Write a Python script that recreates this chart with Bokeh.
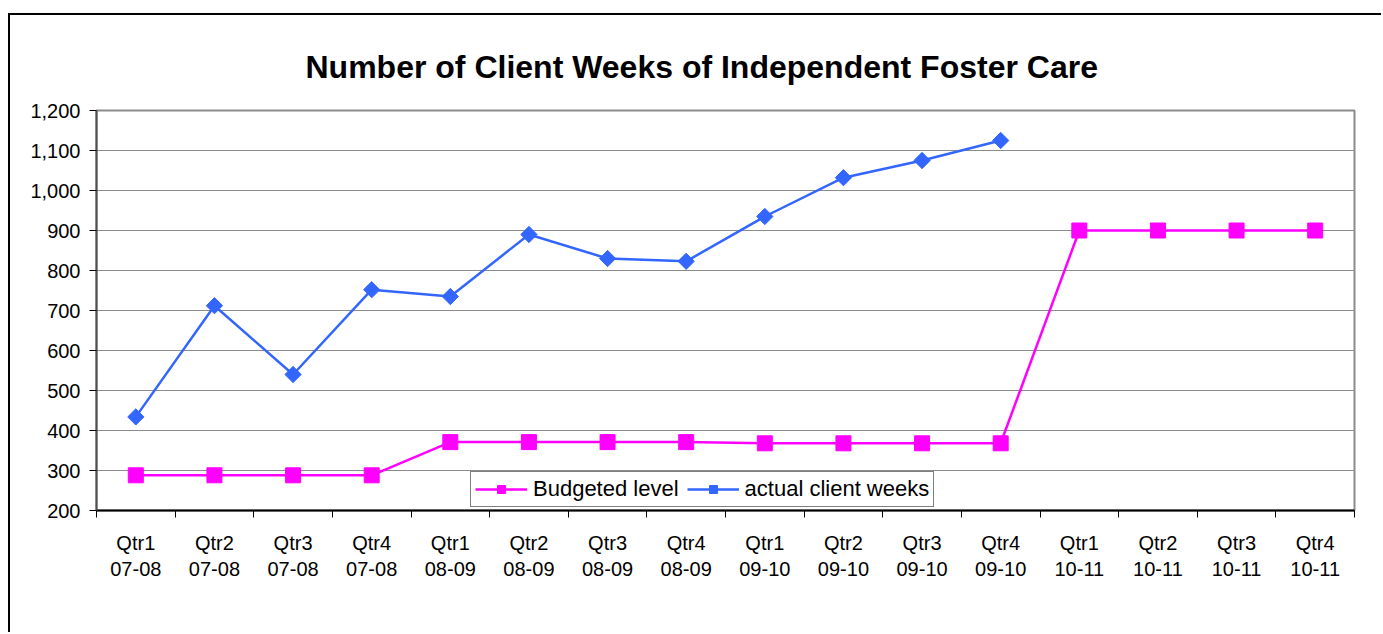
import math
from bokeh.plotting import figure
from bokeh.models import (Range1d, LinearAxis, FixedTicker, NumeralTickFormatter,
                          Legend, LegendItem, ColumnDataSource)
from bokeh.embed import file_html
from bokeh.resources import INLINE

quarters = ["Qtr1", "Qtr2", "Qtr3", "Qtr4"]
years = ["07-08", "08-09", "09-10", "10-11"]
categories = [f"{q}\n{y}" for y in years for q in quarters]
budgeted = [288, 288, 288, 288, 371, 371, 371, 371, 368, 368, 368, 368, 900, 900, 900, 900]
actual = [434, 712, 540, 752, 735, 890, 830, 823, 935, 1032, 1075, 1125]
title_text = "Number of Client Weeks of Independent Foster Care"
y_ticks = list(range(200, 1201, 100))

FONT = "Liberation Sans"
W, H = 1373, 619
n = len(categories)
centers = [i + 0.5 for i in range(n)]      # category slot centres on the index scale
bounds = list(range(n + 1))                # category slot boundaries

p = figure(width=W, height=H, x_range=Range1d(0, n), y_range=Range1d(200, 1200),
           x_axis_location=None, output_backend="svg", toolbar_location=None,
           min_border_left=86, min_border_right=29, min_border_top=95, min_border_bottom=124)
p.styles = {"margin-left": "8px", "margin-top": "13px",
            "border-left": "2px solid black", "border-top": "2px solid black"}
p.background_fill_color = "white"
p.border_fill_color = "white"
p.outline_line_color = "#8c8c8c"
p.outline_line_width = 2

p.title.text = title_text
p.title.text_font = FONT
p.title.text_font_size = "32px"
p.title.text_font_style = "bold"
p.title.text_color = "black"
p.title.align = "left"
p.title.offset = 209
p.title.standoff = 52

# y axis
ya = p.yaxis[0]
ya.ticker = FixedTicker(ticks=y_ticks)
ya.formatter = NumeralTickFormatter(format="0,0")
ya.major_label_text_font = FONT
ya.major_label_text_font_size = "20px"
ya.major_label_text_color = "black"
ya.axis_line_color = "#505050"
ya.axis_line_width = 2
ya.major_tick_line_color = "black"
ya.major_tick_in = 0
ya.major_tick_out = 7
ya.minor_tick_line_color = None
ya.major_label_standoff = 9
p.ygrid.ticker = FixedTicker(ticks=y_ticks)
p.ygrid.grid_line_color = "#8c8c8c"
p.ygrid.grid_line_width = 1
p.xgrid.grid_line_color = None

# x: tick marks at category boundaries
tick_axis = LinearAxis(ticker=FixedTicker(ticks=bounds),
                       major_label_overrides={b: "" for b in bounds},
                       major_label_standoff=0, axis_line_color="black", axis_line_width=2,
                       major_tick_line_color="black", major_tick_in=0, major_tick_out=7,
                       minor_tick_line_color=None)
p.add_layout(tick_axis, "below")
# x: category labels at slot centres
lab_axis = LinearAxis(ticker=FixedTicker(ticks=centers),
                      major_label_overrides={c: lab for c, lab in zip(centers, categories)},
                      axis_line_color=None, major_tick_line_color=None, minor_tick_line_color=None,
                      major_label_text_font=FONT, major_label_text_font_size="20px",
                      major_label_text_color="black", major_label_standoff=8)
p.add_layout(lab_axis, "below")

# series
src_b = ColumnDataSource(dict(x=centers, y=budgeted))
src_a = ColumnDataSource(dict(x=centers[:len(actual)], y=actual))
lb = p.line("x", "y", source=src_b, line_color="#FF00FF", line_width=2.5)
mb = p.scatter("x", "y", source=src_b, marker="square", size=15, fill_color="#FF00FF", line_color="#FF00FF")
la = p.line("x", "y", source=src_a, line_color="#3366FF", line_width=2.5)
ma = p.scatter("x", "y", source=src_a, marker="square", angle=math.pi / 4, size=11.5,
               fill_color="#3366FF", line_color="#3366FF")

legend = Legend(items=[LegendItem(label="Budgeted level", renderers=[lb, mb]),
                       LegendItem(label="actual client weeks", renderers=[la, ma])],
                orientation="horizontal", location=(374, 3),
                label_text_font=FONT, label_text_font_size="22px", label_text_color="black",
                border_line_color="black", border_line_width=1, glyph_width=52, glyph_height=20,
                label_standoff=6, spacing=8, padding=4, margin=0,
                background_fill_color="white", background_fill_alpha=1)
p.add_layout(legend, "center")

open("out.html", "w").write(file_html(p, INLINE))
